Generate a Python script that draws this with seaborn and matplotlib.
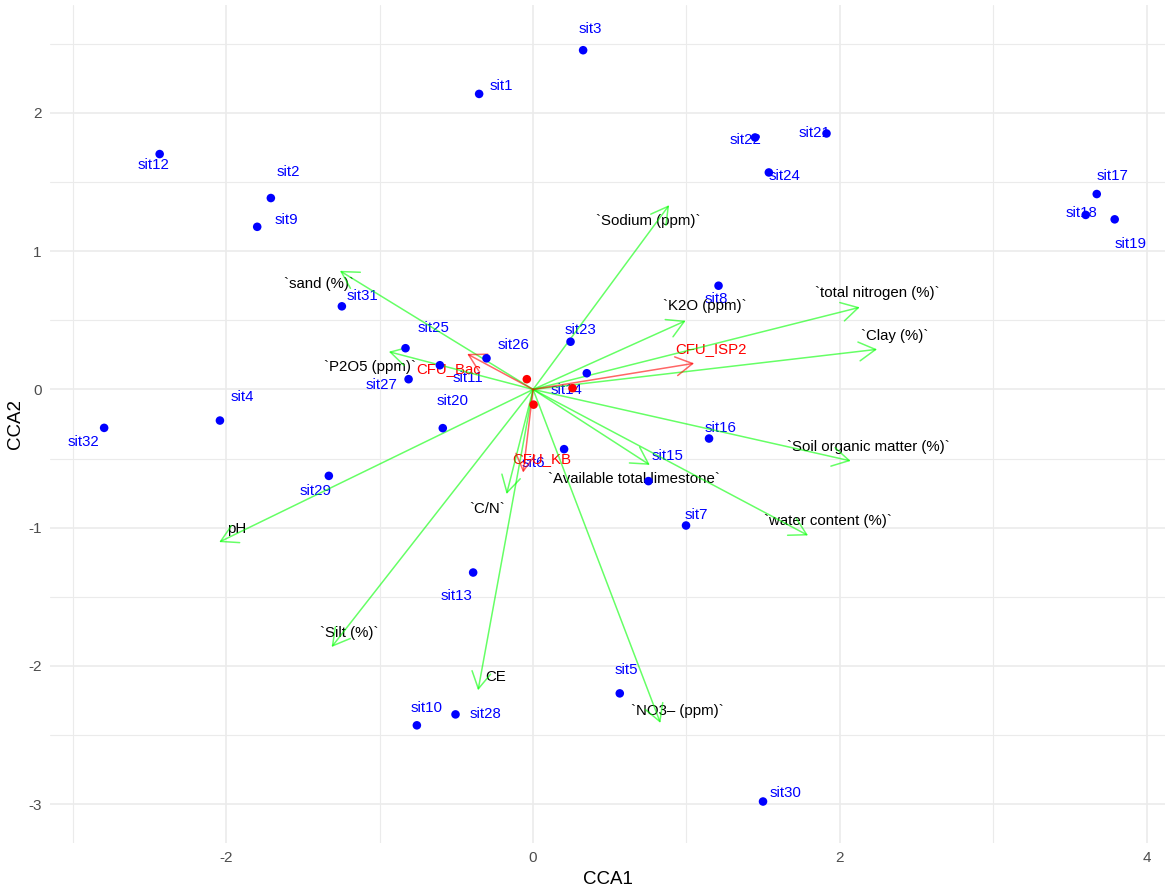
import matplotlib
matplotlib.use("Agg")
import matplotlib.pyplot as plt
from matplotlib.ticker import MultipleLocator
import pandas as pd
import seaborn as sns

# ------------------------------
# CCA scores
# ------------------------------
site_names = [f"sit{i}" for i in range(1, 33)]
site_cca1 = [-0.352, -1.710, 0.326, -2.042, 0.565, 0.202, 0.997, 1.209, -1.799, -0.758,
             -0.608, -2.435, -0.391, 0.350, 0.752, 1.147, 3.675, 3.603, 3.792, -0.589,
             1.913, 1.447, 0.244, 1.537, -0.832, -0.304, -0.812, -0.506, -1.332, 1.499,
             -1.247, -2.797]
site_cca2 = [2.137, 1.384, 2.453, -0.225, -2.198, -0.432, -0.984, 0.750, 1.176, -2.429,
             0.175, 1.702, -1.324, 0.117, -0.663, -0.355, 1.413, 1.262, 1.230, -0.280,
             1.851, 1.822, 0.345, 1.569, 0.298, 0.225, 0.074, -2.350, -0.625, -2.980,
             0.601, -0.278]

env_names = ["`Sodium (ppm)`", "`K2O (ppm)`", "`total nitrogen (%)`", "`Clay (%)`",
             "`Soil organic matter (%)`", "`water content (%)`", "`Available total limestone`",
             "`NO3\u2013 (ppm)`", "CE", "`Silt (%)`", "pH", "`C/N`", "`sand (%)`", "`P2O5 (ppm)`"]
env_cca1 = [0.887, 0.995, 2.130, 2.243, 2.071, 1.793, 0.761, 0.830, -0.359, -1.314, -2.047, -0.173, -1.260, -0.941]
env_cca2 = [1.333, 0.497, 0.594, 0.290, -0.517, -1.056, -0.546, -2.412, -2.176, -1.863, -1.104, -0.757, 0.858, 0.273]

spec_names = ["CFU_Bac", "CFU_ISP2", "CFU_KB"]
spec_arrow1 = [-0.430, 1.050, -0.065]
spec_arrow2 = [0.257, 0.189, -0.601]
spec_cca1 = [-0.041, 0.257, 0.003]
spec_cca2 = [0.074, 0.009, -0.110]

# label nudges (pixels: right, down), like ggrepel placed them
site_dx = [22, 17, 7, 22, 7, -31, 10, -2, 29, 10, 28, -6, -17, -20, 19, 11,
           16, -4, 16, 10, -12, -10, 10, 16, 28, 27, -27, 30, -13, 22, 21, -21]
site_dy = [-8, -26, -21, -24, -23, 14, -11, 13, -7, -17, 13, 11, 23, 17, -25, -11,
           -18, -2, 25, -27, 0, 3, -12, 4, -20, -13, 6, 0, 15, -9, -10, 14]
env_dx = [-21, 19, 18, 18, 18, 20, -16, 17, 18, 18, 18, -19, -21, -19]
env_dy = [16, -15, -14, -13, -14, -14, 14, -12, -13, -14, -13, 15, 13, 15]
spec_dx = [-19, 17, 19]
spec_dy = [15, -14, -14]

sites = pd.DataFrame({"name": site_names, "CCA1": site_cca1, "CCA2": site_cca2})
env = pd.DataFrame({"name": env_names, "CCA1": env_cca1, "CCA2": env_cca2})
spec = pd.DataFrame({"name": spec_names, "CCA1": spec_cca1, "CCA2": spec_cca2,
                     "a1": spec_arrow1, "a2": spec_arrow2})

# ------------------------------
# Style
# ------------------------------
sns.set_theme(style="whitegrid")
plt.rcParams["font.family"] = ["Liberation Sans", "DejaVu Sans"]
plt.rcParams["axes.unicode_minus"] = False

fig = plt.figure(figsize=(11.7, 8.9), dpi=100)
ax = fig.add_axes([50 / 1170, 47 / 890, 1115 / 1170, 838 / 890])

LAB = 10.8


def arrow(x, y, col):
    ax.annotate("", xy=(x, y), xytext=(0, 0),
                arrowprops=dict(arrowstyle="->,head_length=0.6,head_width=0.34",
                                color=col, alpha=0.6, lw=1.1, shrinkA=0, shrinkB=0,
                                mutation_scale=20),
                zorder=3)


# labels first, arrows and points go over them
for i, r in sites.iterrows():
    ax.annotate(r["name"], (r["CCA1"], r["CCA2"]), xytext=(site_dx[i], -site_dy[i]),
                textcoords="offset pixels", ha="center", va="center",
                color="blue", fontsize=LAB, zorder=2)
for i, r in env.iterrows():
    ax.annotate(r["name"], (r["CCA1"], r["CCA2"]), xytext=(env_dx[i], -env_dy[i]),
                textcoords="offset pixels", ha="center", va="center",
                color="black", fontsize=LAB, zorder=2)
for i, r in spec.iterrows():
    ax.annotate(r["name"], (r["a1"], r["a2"]), xytext=(spec_dx[i], -spec_dy[i]),
                textcoords="offset pixels", ha="center", va="center",
                color="red", fontsize=LAB, zorder=2)

for _, r in env.iterrows():
    arrow(r["CCA1"], r["CCA2"], "#00FF00")
for _, r in spec.iterrows():
    arrow(r["a1"], r["a2"], "#FF0000")

sns.scatterplot(data=sites, x="CCA1", y="CCA2", color="blue", s=38,
                edgecolor="none", ax=ax, zorder=4)
sns.scatterplot(data=spec, x="CCA1", y="CCA2", color="red", s=38,
                edgecolor="none", ax=ax, zorder=4)

# ------------------------------
# Axes, grid (theme_minimal look)
# ------------------------------
ax.set_xlim(-3.15, 4.12)
ax.set_ylim(-3.28, 2.78)
ax.xaxis.set_major_locator(MultipleLocator(2))
ax.xaxis.set_minor_locator(MultipleLocator(1))
ax.yaxis.set_major_locator(MultipleLocator(1))
ax.yaxis.set_minor_locator(MultipleLocator(0.5))
ax.set_axisbelow(True)
ax.grid(which="major", color="#EBEBEB", lw=1.2)
ax.grid(which="minor", color="#EBEBEB", lw=0.8)
ax.set_facecolor("white")
for s in ax.spines.values():
    s.set_visible(False)
ax.tick_params(which="both", length=0, labelsize=11, colors="#4D4D4D", pad=6)
ax.set_xlabel("CCA1", fontsize=13.5, color="black", labelpad=4)
ax.set_ylabel("CCA2", fontsize=13.5, color="black", labelpad=3)

fig.savefig("out.png", dpi=100, facecolor="white")
